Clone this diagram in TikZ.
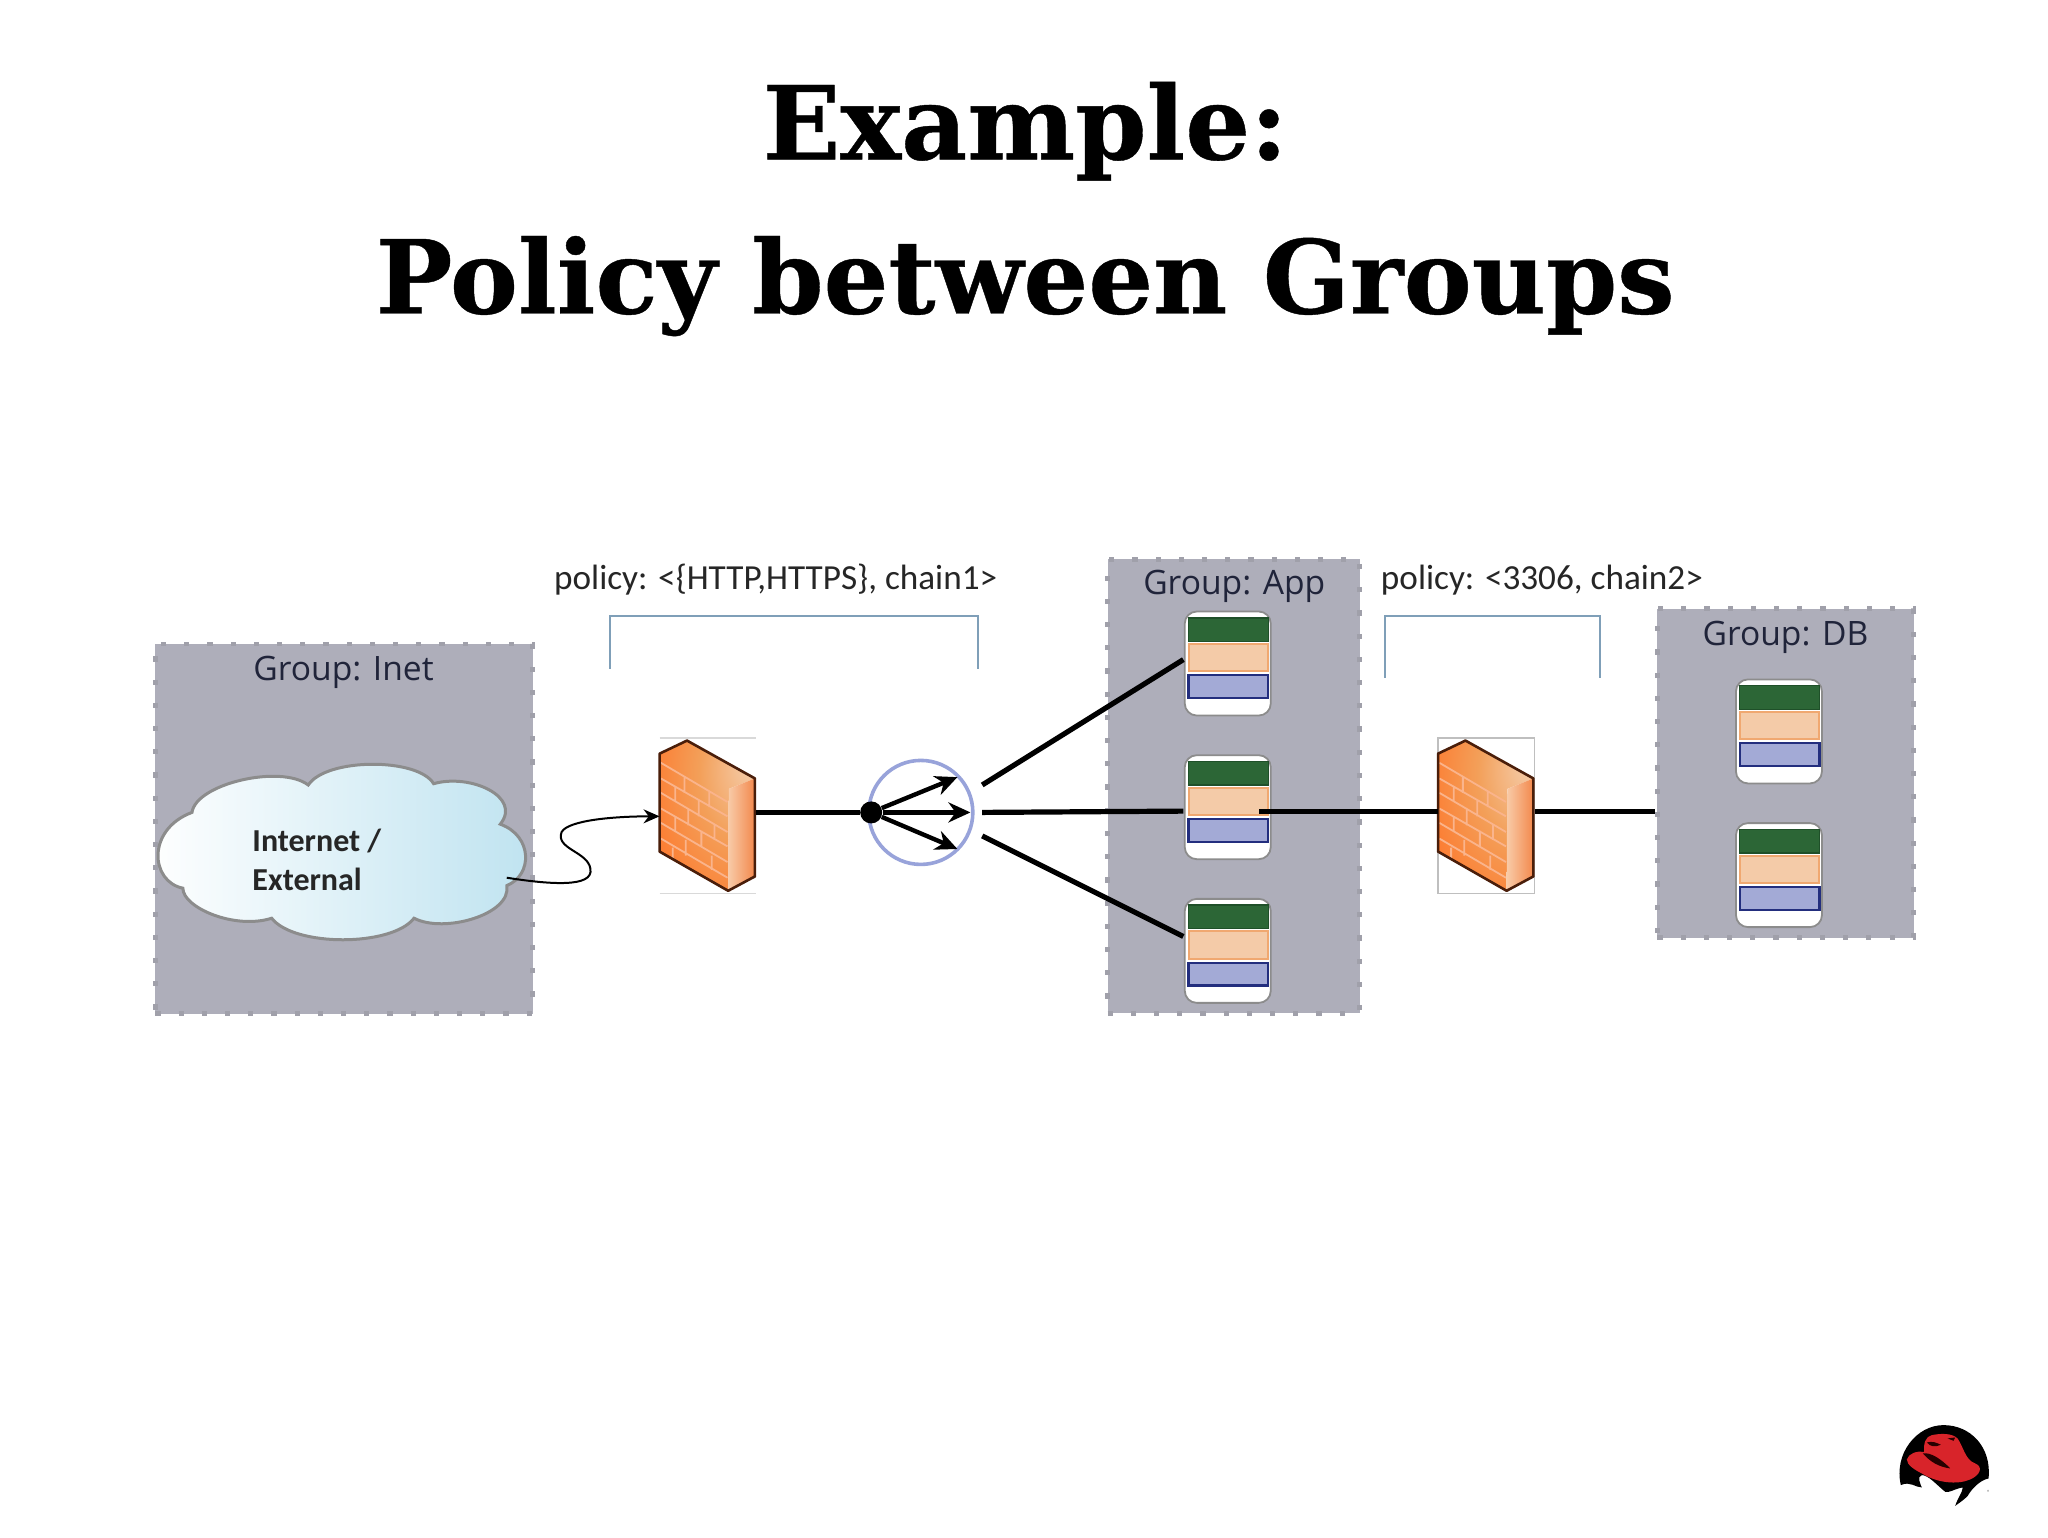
\documentclass[tikz,border=0pt]{standalone}
\usepackage{fontspec}
\setmainfont{Carlito}
\newfontfamily\titlefont{DejaVu Serif}[BoldFeatures={FakeBold=0.4}]
\newfontfamily\groupfont{Open Sans}
\usetikzlibrary{arrows.meta,calc}
\definecolor{grp}{HTML}{AEAEBA}
\definecolor{grpb}{HTML}{A0A0AA}
\definecolor{brk}{HTML}{7F9FB8}
\definecolor{ink}{HTML}{20243A}
\definecolor{brick}{HTML}{FAB48C}
\definecolor{srvgreen}{HTML}{2C6636}
\definecolor{srvgreenb}{HTML}{1F5029}
\definecolor{srvorange}{HTML}{F4CBA8}
\definecolor{srvorangeb}{HTML}{F0A870}
\definecolor{srvblue}{HTML}{A3AAD6}
\definecolor{srvblueb}{HTML}{232E7E}
\definecolor{lbring}{HTML}{98A3DA}
\definecolor{wallb}{HTML}{4A1E0A}
\definecolor{cloudb}{HTML}{BFE3F0}
\definecolor{hatred}{HTML}{D8242A}
\definecolor{sidel}{HTML}{F8CBA8}
\definecolor{sider}{HTML}{F3884C}
\pgfdeclareradialshading{fwglow}{\pgfpoint{23bp}{18bp}}{%
  color(0bp)=(srvorange!95!white); color(22bp)=(srvorangeb!80!orange); color(50bp)=(orange!70!red!85!white); color(100bp)=(orange!70!red!85!white)}
\tikzset{
  x=0.653pt,y=-0.653pt,
  group/.style={draw=grpb,fill=grp,line width=2.4pt,dash pattern=on 2.6pt off 9pt,inner sep=0pt},
  grouplabel/.style={font=\groupfont\fontsize{16.8}{18}\selectfont,text=ink,inner sep=0pt},
  policy/.style={font=\fontsize{17.6}{19}\selectfont,text=black!85,anchor=west,inner sep=0pt},
  srv/.style={draw=black!45,fill=white,line width=0.9pt,rounded corners=6pt,minimum width=43pt,minimum height=52pt,inner sep=0pt},
  fwbox/.style={inner sep=0pt,minimum width=48pt,minimum height=76pt},
  link/.style={draw=black,line width=2.6pt},
  fan/.style={draw=black,line width=2.2pt,-{Stealth[length=11pt,width=10pt]}},
  bracket/.style={draw=brk,line width=1pt},
  wall/.style={draw=wallb,line width=1.3pt,line join=round},
  bricks/.style={draw=brick,line width=0.9pt},
}
\newcommand{\server}[3]{%
  \node[srv] (#1) at (#2,#3) {};
  \begin{scope}[shift={(#2,#3)}]
    \draw[fill=srvgreen,draw=srvgreenb,line width=.7pt] (-30,-35) rectangle (31,-17);
    \draw[fill=srvorange,draw=srvorangeb,line width=1pt] (-30,-15) rectangle (31,6);
    \draw[fill=srvblue,draw=srvblueb,line width=1.1pt] (-30,9) rectangle (31,26.5);
  \end{scope}}
\newcommand{\firewall}[3]{%
  \node[fwbox] (#1) at (#2+37,#3+58) {};
  \begin{scope}[shift={(#2,#3)}]
    \path[shading=fwglow]
      (0,10) -- (21,0) -- (73,29) -- (53,37) -- (52.5,115) -- (0,85) -- cycle;
    \draw[bricks] (1,17) -- (52,47) (1,29) -- (52,58) (1,40) -- (52,70) (1,52) -- (52,81) (1,63) -- (52,93) (1,75) -- (52,105)
      (19,28) -- (19,40) (38,39) -- (38,51) (12,35) -- (12,47) (30,46) -- (30,58)
      (22,53) -- (22,65) (42,64) -- (42,76) (12,58) -- (12,70) (32,69) -- (32,81)
      (20,76) -- (20,88) (40,88) -- (40,99) (10,82) -- (10,90);
    \path[left color=sidel,right color=sider] (53,37) -- (73,29) -- (73,104) -- (52.5,115) -- cycle;
    \draw[wall] (0,10) -- (21,0) -- (73,29) -- (73,104) -- (52.5,115) -- (0,85) -- cycle;
  \end{scope}}
\begin{document}
\begin{tikzpicture}
\useasboundingbox (0,0) rectangle (1568,1177);
\fill[white] (0,0) rectangle (1568,1177);
% title
\node[font=\titlefont\bfseries\fontsize{51}{60}\selectfont,inner sep=0pt,anchor=base] (t1) at (785,122) {Example:};
\node[font=\titlefont\bfseries\fontsize{51}{60}\selectfont,inner sep=0pt,anchor=base] (t2) at (785,240) {Policy between Groups};
% groups
\node[group,minimum width=188.7pt,minimum height=184.8pt] (inet) at (263.5,634.5) {};
\node[group,minimum width=126pt,minimum height=227pt] (app) at (944.5,602) {};
\node[group,minimum width=128pt,minimum height=164.5pt] (db) at (1367,592) {};
\node[grouplabel] (linet) at (263,515) {Group: Inet};
\node[grouplabel] (lapp) at (945,449) {Group: App};
\node[grouplabel] (ldb) at (1367,488) {Group: DB};
% policy labels and brackets
\node[policy] (p1) at (424,444) {policy: <\{HTTP,HTTPS\}, chain1>};
\node[policy] (p2) at (1057,444) {policy: <3306, chain2>};
\coordinate (b1a) at (467,512); \coordinate (b1b) at (749,512);
\coordinate (b2a) at (1060,519); \coordinate (b2b) at (1225,519);
\draw[bracket] (b1a) |- (749,472) -- (b1b);
\draw[bracket] (b2a) |- (1225,472) -- (b2b);
% cloud
\path[draw=black!45,line width=1.5pt,left color=white,right color=cloudb]
  (147,622) .. controls (150,600) and (215,585) .. (236,601)
  .. controls (250,580) and (320,580) .. (332,600)
  .. controls (360,592) and (400,610) .. (383,631)
  .. controls (408,640) and (408,670) .. (388,678)
  .. controls (392,700) and (340,715) .. (317,703)
  .. controls (300,725) and (225,725) .. (208,703)
  .. controls (180,712) and (140,695) .. (140,680)
  .. controls (115,675) and (112,635) .. (147,622) -- cycle;
\node[font=\bfseries\fontsize{16}{19}\selectfont,anchor=west,inner sep=0pt,text=black!85] (c1) at (193,644) {Internet /};
\node[font=\bfseries\fontsize{16}{19}\selectfont,anchor=west,inner sep=0pt,text=black!85] (c2) at (193,673) {External};
\coordinate (cloudout) at (388,672);
% firewalls
\draw[black!15,line width=.6pt] (505,565) -- (579,565) (505,684) -- (579,684);
\draw[black!25,line width=.6pt] (1101,565) rectangle (1175,684);
\firewall{fw1}{505}{567}
\firewall{fw2}{1101}{567}
% servers
\server{app1}{940}{508}
\server{app2}{940}{618}
\server{app3}{940}{728}
\server{db1}{1362}{560}
\server{db2}{1362}{670}
% load balancer
\node[draw=lbring,line width=1.8pt,circle,minimum size=52pt,inner sep=0pt] (lb) at (705,622) {};
\node[fill=black,circle,minimum size=11pt,inner sep=0pt] (hub) at (667,622) {};
\coordinate (o1) at (733,595); \coordinate (o2) at (743,622); \coordinate (o3) at (733,650);
\coordinate (f1) at (752,601); \coordinate (f2) at (752,622); \coordinate (f3) at (752,640);
\coordinate (a1) at (906,505); \coordinate (a2) at (906,621); \coordinate (a3) at (906,717);
\coordinate (m2) at (964,621);
% connectors
\draw[link] (fw1.east |- hub) -- (hub);
\draw[fan] (hub) -- (o1);
\draw[fan] (hub) -- (o2);
\draw[fan] (hub) -- (o3);
\draw[link] (f1) -- (a1);
\draw[link] (f2) -- (a2);
\draw[link] (f3) -- (a3);
\draw[link] (m2) -- (fw2.west |- m2);
\draw[link] (fw2.east |- m2) -- (db.west |- m2);
\draw[black,line width=1pt,-{Stealth[length=8pt,width=7pt]}] (cloudout) .. controls (420,677) and (455,680) .. (452,665)
  .. controls (450,652) and (425,650) .. (430,637) .. controls (435,628) and (470,625) .. (fw1.west);
% logo
\begin{scope}[shift={(1439.5,1079.6)},x=0.1667pt,y=-0.1667pt]
  \fill[black] (62,225) .. controls (40,130) and (110,45) .. (190,45)
    .. controls (270,45) and (335,110) .. (325,205)
    .. controls (300,210) and (275,235) .. (262,258)
    .. controls (250,270) and (235,280) .. (225,287)
    .. controls (232,265) and (245,250) .. (248,232)
    .. controls (225,235) and (205,250) .. (195,245)
    .. controls (170,225) and (145,195) .. (125,195)
    .. controls (108,198) and (122,225) .. (125,232)
    .. controls (105,232) and (90,212) .. (62,225) -- cycle;
  \fill[hatred] (80,148) .. controls (85,130) and (110,122) .. (132,125)
    .. controls (130,100) and (135,80) .. (155,75)
    .. controls (180,70) and (215,68) .. (232,85)
    .. controls (250,110) and (255,150) .. (285,160)
    .. controls (310,170) and (300,195) .. (270,208)
    .. controls (230,225) and (170,218) .. (125,190)
    .. controls (105,180) and (80,165) .. (80,148) -- cycle;
  \fill[black!85!red] (128,130) .. controls (150,125) and (185,148) .. (210,175) .. controls (175,170) and (150,155) .. (128,130) -- cycle;
  \fill[black!85!red] (140,97) .. controls (155,92) and (170,98) .. (182,104) .. controls (165,112) and (150,110) .. (140,97) -- cycle;
  \fill[black!85!red] (202,85) -- (225,82) -- (220,92) -- cycle;
  \node[font=\fontsize{3}{3}\selectfont,text=black!60,inner sep=0pt] (reg) at (325,248) {®};
\end{scope}
\end{tikzpicture}
\end{document}
